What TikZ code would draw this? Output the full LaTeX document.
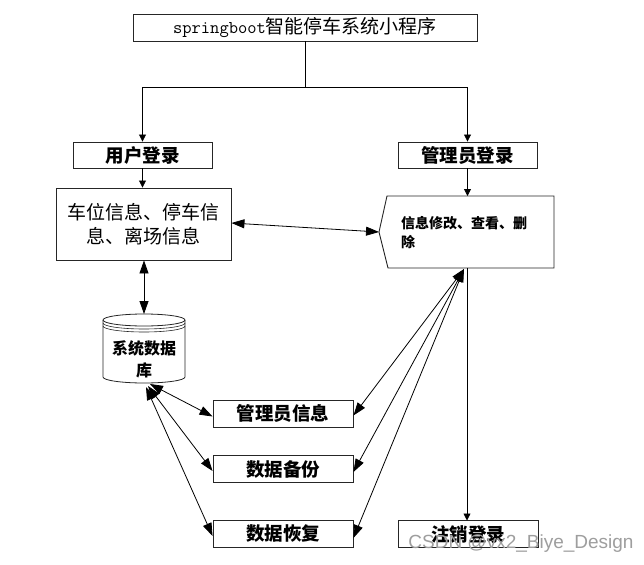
\documentclass[tikz,border=0pt]{standalone}
\usepackage{fontspec}
\newfontfamily\cjk{Noto Sans CJK SC}
\newfontfamily\wmfont{Liberation Sans}
\usetikzlibrary{arrows.meta}
\begin{document}
\begin{tikzpicture}[x=1pt,y=-1pt,
  box/.style={draw=black!85,line width=0.9pt,inner sep=0pt,fill=white},
  bold/.style={font=\cjk\bfseries\fontsize{18.5}{18.5}\selectfont},
  conn/.style={line width=0.8pt,black},
  arrS/.style={conn,-{Triangle[length=7pt,width=7pt]}},
  arrB/.style={conn,-{Triangle[length=13pt,width=9pt]}},
  darrB/.style={conn,{Triangle[length=13pt,width=9pt]}-{Triangle[length=13pt,width=9pt]}}]
\useasboundingbox (0,0) rectangle (644,564);
\fill[white] (0,0) rectangle (644,564);

% nodes
\node[box,minimum width=344pt,minimum height=27pt] (title) at (305,27.5)
  {{\ttfamily\fontsize{18}{18}\selectfont springboot}{\cjk\fontsize{19}{19}\selectfont 智能停车系统小程序}};
\node[box,bold,minimum width=139pt,minimum height=26pt] (user) at (142.5,155) {用户登录};
\node[box,bold,minimum width=139pt,minimum height=26pt] (admin) at (467.5,155) {管理员登录};
\node[box,minimum width=175pt,minimum height=72pt,align=center,
  font=\cjk\fontsize{19}{24}\selectfont] (info) at (143.5,224) {车位信息、停车信\\息、离场信息};

% operations shape
\coordinate (opsL) at (379,232);
\coordinate (opsT) at (467.5,196);
\coordinate (opsB) at (466,268);
\draw[line width=0.9pt,black!85,fill=white] (387,196) -- (554,196) -- (554,268) -- (388,268) -- (opsL) -- cycle;
\node[anchor=west,align=left,inner sep=0pt,
  font=\cjk\bfseries\fontsize{14}{19.5}\selectfont] (ops) at (401,232.5) {信息修改、查看、删\\除};

% database cylinder
\draw[line width=0.8pt,black!85,fill=white]
  (103,320) -- (103,377) arc[start angle=180,end angle=0,x radius=41,y radius=6]
  -- (185,320) arc[start angle=0,end angle=-180,x radius=41,y radius=6] -- cycle;
\draw[line width=0.8pt,black!85] (103,320) arc[start angle=180,end angle=0,x radius=41,y radius=6];
\draw[line width=0.6pt,black!85] (103,323) arc[start angle=180,end angle=0,x radius=41,y radius=6];
\draw[line width=0.6pt,black!85] (103,326) arc[start angle=180,end angle=0,x radius=41,y radius=6];
\coordinate (dbT) at (144,314);
\node[align=center,inner sep=0pt,font=\cjk\bfseries\fontsize{16}{22}\selectfont] (db) at (144,359) {系统数据\\库};
\coordinate (dbB1) at (150,384);
\coordinate (dbB2) at (148,386);
\coordinate (dbB3) at (146,387);

\node[box,bold,minimum width=140pt,minimum height=27pt] (adminfo) at (283,413.5) {管理员信息};
\node[box,bold,minimum width=140pt,minimum height=27pt] (backup) at (283,469) {数据备份};
\node[box,bold,minimum width=140pt,minimum height=27pt] (restore) at (283,534) {数据恢复};
\node[box,bold,minimum width=140pt,minimum height=27pt] (logout) at (468,534) {注销登录};

% connectors
\coordinate (split) at (305,87);
\draw[arrS] (title.south) -- (split) -| (user.north);
\draw[arrS] (split) -| (admin.north);
\draw[arrS] (user.south) -- (user.south |- info.north);
\draw[darrB] (info.south -| dbT) -- (dbT);
\draw[darrB] ([yshift=1pt]info.east) -- (opsL);
\draw[arrS] (admin.south) -- (opsT);
\draw[arrS] (467,268) -- (467,520.5);
\coordinate (opsB1) at (464,269);
\draw[darrB] (opsB1) -- ([yshift=-2pt]adminfo.east);
\draw[darrB] (opsB1) -- ([yshift=-3pt]backup.east);
\draw[darrB] (opsB1) -- ([yshift=-4pt]restore.east);
\draw[darrB] (dbB1) -- ([yshift=-3pt]adminfo.west);
\draw[darrB] (dbB2) -- ([yshift=-2pt]backup.west);
\draw[darrB] (dbB3) -- ([yshift=-2pt]restore.west);

% watermark
\node[inner sep=0pt,text=black!38,font=\wmfont\fontsize{19}{19}\selectfont] (wm) at (521,544) {CSDN @vx2\_Biye\_Design};
\end{tikzpicture}
\end{document}
